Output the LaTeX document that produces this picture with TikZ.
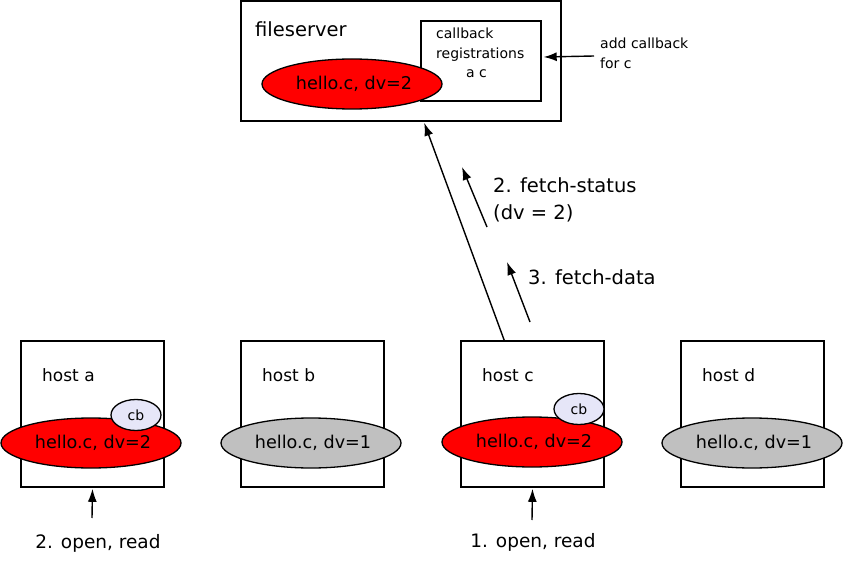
\documentclass[tikz,border=0pt]{standalone}
\usepackage{fontspec}
\setmainfont{DejaVu Sans}
\usetikzlibrary{positioning, arrows.meta, shapes.geometric}

\definecolor{filered}{HTML}{FF0000}
\definecolor{filegrey}{HTML}{C0C0C0}
\definecolor{cbfill}{HTML}{E6E6F8}

\begin{document}
\begin{tikzpicture}[x=1pt, y=-1pt, node distance=220pt, auto]
        % Define block styles
        \tikzstyle{hostbox} = [rectangle, draw, line width=1.6pt, minimum width=143pt, minimum height=146pt, inner sep=0pt]
        \tikzstyle{file} = [ellipse, draw, line width=1.3pt, fill=filered, minimum width=180pt, minimum height=50pt, inner sep=0pt, font=\fontsize{17.6}{20}\selectfont]
        \tikzstyle{oldfile} = [file, fill=filegrey]
        \tikzstyle{cb} = [ellipse, draw, line width=1.3pt, fill=cbfill, minimum width=50pt, minimum height=31pt, inner sep=0pt, font=\fontsize{14}{16}\selectfont]
        \tikzstyle{hostlabel} = [anchor=west, inner sep=0pt, font=\fontsize{17}{20}\selectfont]
        \tikzstyle{msg} = [anchor=west, inner sep=0pt, align=left, font=\fontsize{19.5}{28}\selectfont]
        \tikzstyle{small} = [inner sep=0pt, align=left, font=\fontsize{14}{19.5}\selectfont]
        \tikzstyle{arr} = [-{Latex[length=13pt, width=9pt]}, line width=1.4pt]

        \useasboundingbox (0,0) rectangle (843,564);

        % Place fileserver
        \node [hostbox, minimum width=320pt, minimum height=120pt] (fs) at (401,61) {};
        \node [hostlabel, font=\fontsize{19.5}{22}\selectfont] (fslabel) at (255,29) {fileserver};
        \node [hostbox, minimum width=120pt, minimum height=80pt, line width=1.4pt] (cbreg) at (481,61) {};
        \node [small, anchor=west] (cbtext) at (436,53) {callback\\registrations\\\hspace{30pt}a c};
        \node [file] (fsfile) at (352,84) {\hspace{4pt}hello.c, dv=2};

        % Place hosts
        \node [hostbox] (hosta) at (92.5,414) {};
        \node [hostbox, right of=hosta] (hostb) {};
        \node [hostbox, right of=hostb] (hostc) {};
        \node [hostbox, right of=hostc] (hostd) {};

        \node [hostlabel] (labela) at (42,375) {host a};
        \node [hostlabel] (labelb) at (262,375) {host b};
        \node [hostlabel] (labelc) at (482,375) {host c};
        \node [hostlabel] (labeld) at (702,375) {host d};

        % Cached copies and callbacks
        \node [file] (filea) at (91,443) {\hspace{4pt}hello.c, dv=2};
        \node [oldfile] (fileb) at (311,443) {\hspace{4pt}hello.c, dv=1};
        \node [file] (filec) at (532,442) {\hspace{4pt}hello.c, dv=2};
        \node [oldfile] (filed) at (752,443) {\hspace{4pt}hello.c, dv=1};
        \node [cb] (cba) at (136,415) {cb};
        \node [cb] (cbc) at (579,409) {cb};

        % Free ends of the arrows
        \coordinate (addfrom) at (594,56);
        \coordinate (statusfrom) at (487,227);
        \coordinate (statusto) at (462,167);
        \coordinate (datafrom) at (530,322);
        \coordinate (datato) at (507,262);
        \coordinate (openafrom) at (92,518);
        \coordinate (opencfrom) at (532,520);

        % Draw connections as arrows
        \draw [arr] ([xshift=44pt]hostc.north west) -- ([xshift=184pt, yshift=-1pt]fs.south west);
        \draw [arr] (addfrom) -- ([xshift=2pt, yshift=4pt]cbreg.east);
        \draw [arr] (statusfrom) -- (statusto);
        \draw [arr] (datafrom) -- (datato);
        \draw [arr] (openafrom) -- ([yshift=-1pt]hosta.south);
        \draw [arr] (opencfrom) -- ([yshift=-1pt]hostc.south);

        % Add text on the arrows
        \node [small, anchor=north west] (addtext) at (600,38) {add callback\\for c};
        \node [msg] (statustext) at (493,185) {2. fetch-status};
        \node [msg] (dvtext) at (493,213) {(dv = 2)};
        \node [msg] (datatext) at (528,277) {3. fetch-data};
        \node [font=\fontsize{18.5}{22}\selectfont, inner sep=0pt] (opena) at (98,543) {2. open, read};
        \node [font=\fontsize{18.5}{22}\selectfont, inner sep=0pt] (openc) at (533,542) {1. open, read};

    \end{tikzpicture}
\end{document}
